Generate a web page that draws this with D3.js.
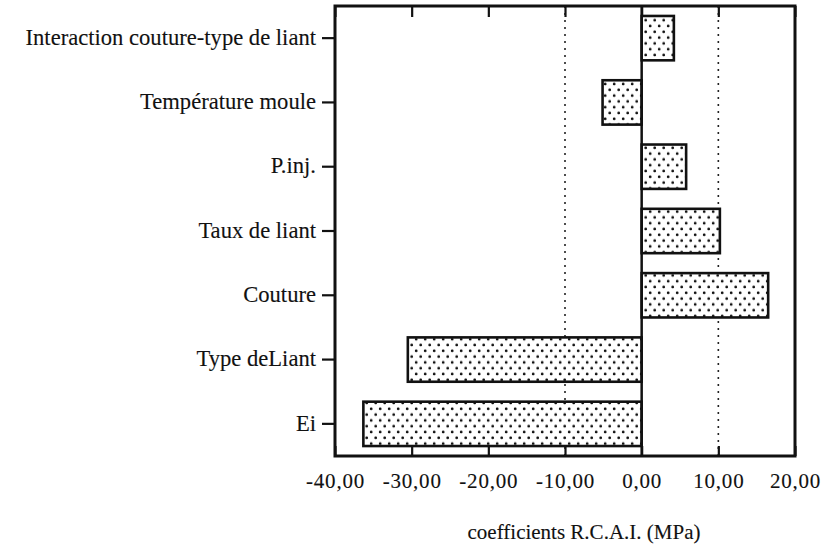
<!DOCTYPE html>
<html lang="fr">
<head>
    <meta charset="UTF-8">
    <title>Coefficients R.C.A.I.</title>
    <script src="https://d3js.org/d3.v7.min.js"></script>
    <style>
        body { margin: 0; background: #fff; }
        svg { display: block; }
        text { font-family: "Liberation Serif", "Times New Roman", serif; fill: #111; stroke: #111; stroke-width: 0.12px; }
        .axis path, .axis line { stroke: #111; }
        .frame { fill: none; stroke: #111; stroke-width: 3px; }
        .grid { stroke: #222; stroke-width: 1.6px; stroke-dasharray: 2,5; }
        .zero { stroke: #111; stroke-width: 2.5px; }
        .bar { stroke: #111; stroke-width: 2.6px; }
    </style>
</head>
<body>
    <svg width="832" height="549"></svg>

    <script>
        // Data
        const categories = [
            "Interaction couture-type de liant",
            "Température moule",
            "P.inj.",
            "Taux de liant",
            "Couture",
            "Type deLiant",
            "Ei"
        ];
        const coefficients = [4.2, -5.1, 5.8, 10.2, 16.5, -30.5, -36.3];
        const xTicks = [-40, -30, -20, -10, 0, 10, 20];
        const gridValues = [-10, 10];

        const svg = d3.select("svg");

        const x = d3.scaleLinear().domain([-40, 20]).range([335, 795]);
        const y = d3.scaleBand()
            .domain(categories)
            .range([6, 456])
            .paddingInner(0.31)
            .paddingOuter(0.155);

        // Stipple pattern for bars
        const pat = svg.append("defs").append("pattern")
            .attr("id", "dots")
            .attr("patternUnits", "userSpaceOnUse")
            .attr("width", 9)
            .attr("height", 11.6);
        pat.append("rect").attr("width", 9).attr("height", 11.6).attr("fill", "#fff");
        pat.append("circle").attr("cx", 2.2).attr("cy", 2.8).attr("r", 1.4).attr("fill", "#111");
        pat.append("circle").attr("cx", 6.7).attr("cy", 8.6).attr("r", 1.4).attr("fill", "#111");

        const [yTop, yBottom] = y.range();

        // Dotted reference lines
        svg.selectAll(".grid")
            .data(gridValues)
            .enter()
            .append("line")
            .attr("class", "grid")
            .attr("x1", d => x(d)).attr("x2", d => x(d))
            .attr("y1", yTop).attr("y2", yBottom);

        // Bars
        svg.selectAll(".bar")
            .data(categories)
            .enter()
            .append("rect")
            .attr("class", "bar")
            .attr("fill", "url(#dots)")
            .attr("x", (d, i) => x(Math.min(0, coefficients[i])))
            .attr("width", (d, i) => Math.abs(x(coefficients[i]) - x(0)))
            .attr("y", d => y(d))
            .attr("height", y.bandwidth());

        // Zero line
        svg.append("line")
            .attr("class", "zero")
            .attr("x1", x(0)).attr("x2", x(0))
            .attr("y1", yTop).attr("y2", yBottom);

        const fmt = d => d.toFixed(2).replace(".", ",");

        // Bottom axis (ticks pointing inside)
        const xAxis = svg.append("g")
            .attr("class", "axis")
            .attr("transform", `translate(0,${yBottom})`)
            .call(d3.axisBottom(x)
                .tickValues(xTicks)
                .tickSizeInner(-10)
                .tickSizeOuter(0)
                .tickPadding(17)
                .tickFormat(fmt));
        xAxis.select(".domain").remove();
        xAxis.selectAll("line").attr("stroke-width", 2.2);
        xAxis.selectAll("text")
            .style("font-size", "21px")
            .style("letter-spacing", "0.8px");

        // Top axis, ticks only
        const topAxis = svg.append("g")
            .attr("class", "axis")
            .attr("transform", `translate(0,${yTop})`)
            .call(d3.axisTop(x)
                .tickValues(xTicks)
                .tickSizeInner(-11)
                .tickSizeOuter(0)
                .tickFormat(""));
        topAxis.select(".domain").remove();
        topAxis.selectAll("line").attr("stroke-width", 2.2);

        // Left axis with category labels
        const yAxis = svg.append("g")
            .attr("class", "axis")
            .attr("transform", `translate(${x(-40)},0)`)
            .call(d3.axisLeft(y).tickSizeInner(13).tickSizeOuter(0).tickPadding(6));
        yAxis.select(".domain").remove();
        yAxis.selectAll("line").attr("stroke-width", 2.2);
        yAxis.selectAll("text")
            .style("font-size", "22.6px")
            .attr("dy", "0.3em");

        // Plot frame
        svg.append("rect")
            .attr("class", "frame")
            .attr("x", x(-40))
            .attr("y", yTop)
            .attr("width", x(20) - x(-40))
            .attr("height", yBottom - yTop);

        // Axis title
        svg.append("text")
            .attr("x", 584)
            .attr("y", 539)
            .attr("text-anchor", "middle")
            .style("font-size", "21px")
            .text("coefficients R.C.A.I. (MPa)");
    </script>
</body>
</html>
